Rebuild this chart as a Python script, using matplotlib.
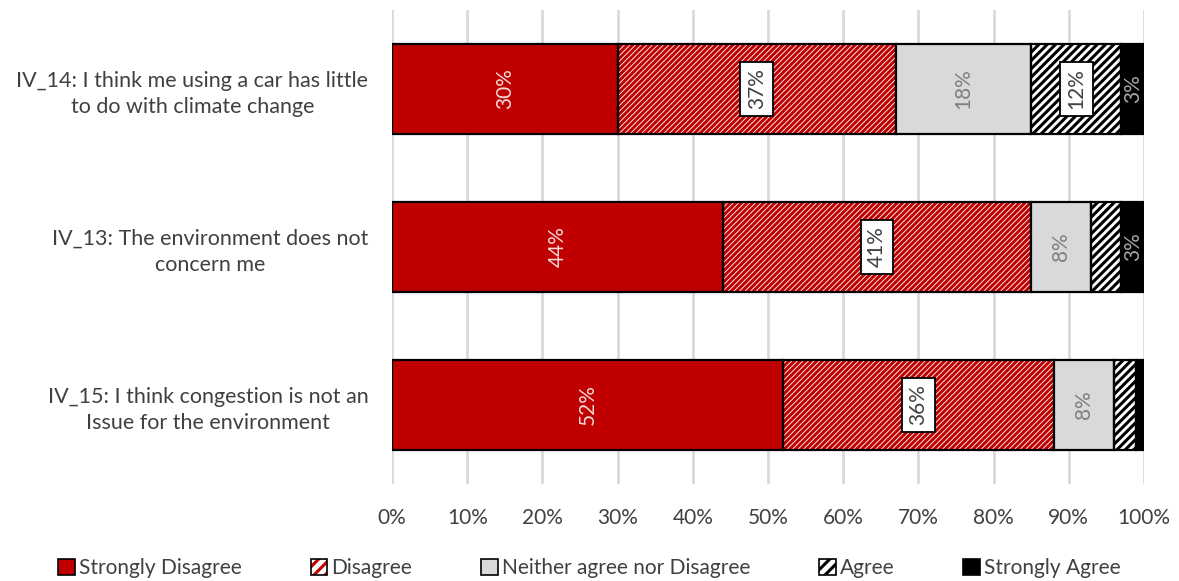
import matplotlib.pyplot as plt
from matplotlib.patches import Patch

plt.rcParams['font.family'] = ['Lato', 'DejaVu Sans']
plt.rcParams['hatch.linewidth'] = 2.2

# survey items (bottom to top) and response shares in %
questions = [
    'IV_15: I think congestion is not an\nIssue for the environment',
    'IV_13: The environment does not\nconcern me',
    'IV_14: I think me using a car has little\nto do with climate change',
]
responses = ['Strongly Disagree', 'Disagree', 'Neither agree nor Disagree',
             'Agree', 'Strongly Agree']
strongly_disagree = [52, 44, 30]
disagree = [36, 41, 37]
neither = [8, 8, 18]
agree = [3, 4, 12]
strongly_agree = [1, 3, 3]
series = [strongly_disagree, disagree, neither, agree, strongly_agree]

# look of each segment: fill, hatch colour, hatch, label colour, boxed label, min value labelled
styles = [
    dict(face='#C00000', hcol=None, hatch=None, txt='#F4D9D9', box=False, min_lab=2),
    dict(face='white', hcol='#C00000', hatch='//////', txt='#404040', box=True, min_lab=2),
    dict(face='#D9D9D9', hcol=None, hatch=None, txt='#7F7F7F', box=False, min_lab=2),
    dict(face='white', hcol='black', hatch='////', txt='#404040', box=True, min_lab=5),
    dict(face='black', hcol=None, hatch=None, txt='#A6A6A6', box=False, min_lab=2),
]

fig = plt.figure(figsize=(11.79, 5.81), dpi=100)
ax = fig.add_axes([0.3325, 0.167, 0.6378, 0.816])

y = range(len(questions))
bar_h = 0.57
left = [0] * len(questions)
handles = []
for vals, st, name in zip(series, styles, responses):
    if st['hatch']:
        ax.barh(y, vals, left=left, height=bar_h, color='white',
                edgecolor=st['hcol'], hatch=st['hatch'], linewidth=0, zorder=2)
        ax.barh(y, vals, left=left, height=bar_h, fill=False,
                edgecolor='black', linewidth=1.6, zorder=3)
        handles.append((Patch(facecolor='white', edgecolor=st['hcol'], hatch=st['hatch'][:3], linewidth=0),
                        Patch(fill=False, edgecolor='black', linewidth=1.2)))
    else:
        ax.barh(y, vals, left=left, height=bar_h, color=st['face'],
                edgecolor='black', linewidth=1.6, zorder=3)
        handles.append(Patch(facecolor=st['face'], edgecolor='black', linewidth=1.2))

    for yi, (l, v) in enumerate(zip(left, vals)):
        if v < st['min_lab']:
            continue
        bbox = dict(boxstyle='square,pad=0.3', facecolor='white',
                    edgecolor='black', linewidth=1.3) if st['box'] else None
        ax.text(l + v / 2, yi, f'{v}%', rotation=90, ha='center', va='center',
                fontsize=15, color=st['txt'], bbox=bbox, zorder=5)
    left = [a + b for a, b in zip(left, vals)]

ax.set_xlim(0, 100)
ax.set_ylim(-0.5, 2.5)
ax.set_xticks(range(0, 101, 10))
ax.set_xticklabels([f'{v}%' for v in range(0, 101, 10)])
ax.set_yticks(list(y))
ax.set_yticklabels(questions, multialignment='center', linespacing=1.4)
ax.tick_params(axis='both', length=0, labelsize=15, labelcolor='#404040')
ax.tick_params(axis='y', labelsize=15.5)
ax.tick_params(axis='x', pad=17)
ax.tick_params(axis='y', pad=17)
ax.grid(axis='x', color='#D9D9D9', linewidth=2, zorder=0)
ax.set_axisbelow(True)
for s in ax.spines.values():
    s.set_visible(False)

fig.legend(handles, responses, ncol=5, loc='center', bbox_to_anchor=(0.5, 0.022),
           frameon=False, fontsize=15, labelcolor='#404040',
           handlelength=0.8, handleheight=0.8, handletextpad=0.2, columnspacing=3.3)

fig.savefig('out.png', dpi=100)
